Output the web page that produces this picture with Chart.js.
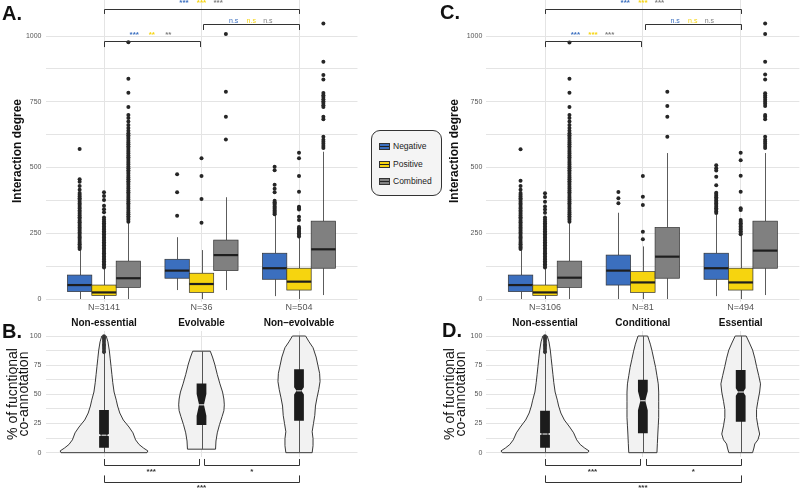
<!DOCTYPE html>
<html lang="en">
<head>
<meta charset="UTF-8">
<title>Interaction degree and functional co-annotation</title>
<script src="https://cdn.jsdelivr.net/npm/chart.js"></script>
<style>
    body { margin: 0; background: #fff; font-family: "Liberation Sans", Arial, sans-serif; }
    #wrap { position: relative; width: 800px; height: 489px; overflow: hidden; }
    .panel { position: absolute; }
    .letter { position: absolute; font-size: 20px; font-weight: bold; line-height: 20px; color: #111; }
    #legend {
        position: absolute; left: 371px; top: 130px; width: 71px; height: 66px;
        box-sizing: border-box; border: 1px solid #333; border-radius: 9px; background: #f4f4f4;
        font-size: 8.5px; color: #222;
    }
    #legend .item { position: absolute; left: 7px; height: 10px; line-height: 10px; white-space: nowrap; }
    #legend .key {
        display: inline-block; width: 11px; height: 7px; margin-right: 3px; vertical-align: -1px;
        border: 1px solid #333; box-sizing: border-box;
        background-image: linear-gradient(#222, #222); background-size: 100% 1.2px;
        background-position: center; background-repeat: no-repeat;
    }
</style>
</head>
<body>
<div id="wrap">
    <div class="panel" style="left:0;top:0"><canvas id="chartA" width="360" height="316"></canvas></div>
    <div class="panel" style="left:0;top:312px"><canvas id="chartB" width="360" height="177"></canvas></div>
    <div class="panel" style="left:437px;top:0"><canvas id="chartC" width="363" height="316"></canvas></div>
    <div class="panel" style="left:437px;top:312px"><canvas id="chartD" width="363" height="177"></canvas></div>

    <div class="letter" style="left:2px;top:3px">A.</div>
    <div class="letter" style="left:2px;top:321px">B.</div>
    <div class="letter" style="left:440px;top:2px">C.</div>
    <div class="letter" style="left:442px;top:320px">D.</div>

    <div id="legend">
        <div class="item" style="top:10px"><span class="key" style="background-color:#3b6fbf"></span>Negative</div>
        <div class="item" style="top:28px"><span class="key" style="background-color:#f6d40f"></span>Positive</div>
        <div class="item" style="top:45px"><span class="key" style="background-color:#808080"></span>Combined</div>
    </div>
</div>

<script>
// ---- data: interaction degree (panels A and C) ----
const seriesNames = ['Negative', 'Positive', 'Combined'];

const groupsA = ['Non-essential', 'Evolvable', 'Non\u2013evolvable'];
const countsA = [3141, 36, 504];
// [lower whisker, q1, median, q3, upper whisker] per group
const negStatsA = [[0, 28, 53, 91, 186], [34, 79, 108, 151, 235], [11, 75, 117, 174, 320]];
const posStatsA = [[0, 13, 25, 53, 118], [0, 25, 57, 98, 186], [0, 34, 66, 117, 232]];
const comStatsA = [[0, 44, 79, 144, 290], [34, 108, 167, 224, 387], [15, 117, 189, 296, 560]];
const negOutA = [
    [190,196,202,208,214,221,228,234,240,247,253,260,266,272,279,285,292,298,305,311,318,324,331,337,344,350,357,363,370,377,383,390,396,403,415,430,446,455,570],
    [317, 406, 474],
    [322,327,332,337,342,347,352,358,363,368,374,406,419,434,490,503]
];
const posOutA = [
    [120,126,132,138,144,150,156,162,168,174,180,186,192,198,204,210,216,222,228,234,240,246,252,258,264,270,276,282,288,295,302,310,330,341,355,376,392,406],
    [290, 380, 468, 535],
    [238,244,250,256,262,268,274,300,313,340,346,351,408,468,535,556]
];
const comOutA = [
    [294,301,308,315,322,329,336,343,350,357,364,371,378,385,392,399,406,413,420,427,434,441,448,455,462,469,476,483,490,497,504,511,518,525,532,539,546,553,560,567,574,581,588,595,602,609,616,623,630,640,650,662,675,688,700,730,784,838,976],
    [607, 693, 788, 1008],
    [574,582,590,598,606,617,684,693,730,737,745,752,760,768,775,783,835,852,902,1048]
];

const groupsC = ['Non-essential', 'Conditional', 'Essential'];
const countsC = [3106, 81, 494];
const negStatsC = [[0, 28, 53, 91, 186], [0, 53, 108, 167, 328], [11, 75, 117, 174, 320]];
const posStatsC = [[0, 13, 25, 53, 118], [0, 25, 63, 104, 200], [0, 34, 63, 117, 240]];
const comStatsC = [[0, 44, 81, 144, 290], [0, 79, 161, 272, 555], [15, 117, 184, 296, 555]];
const negOutC = [
    [190,196,202,208,214,221,228,234,240,247,253,260,266,272,279,285,292,298,305,311,318,324,331,337,344,350,357,363,370,377,383,390,396,403,415,430,450,569],
    [364, 383, 407],
    [327,333,339,345,351,357,363,369,375,381,387,393,399,404,433,465,489,497,509]
];
const posOutC = [
    [120,126,132,138,144,150,156,162,168,174,180,186,192,198,204,210,216,222,228,234,240,246,252,258,264,270,276,282,288,295,302,310,328,340,352,370,388,402],
    [227, 256, 357, 389, 468],
    [246,252,258,264,270,276,282,288,294,300,338,345,408,469,528,556]
];
const comOutC = [
    [294,301,308,315,322,329,336,343,350,357,364,371,378,385,392,399,406,413,420,427,434,441,448,455,462,469,476,483,490,497,504,511,518,525,532,539,546,553,560,567,574,581,588,595,602,609,616,623,630,640,650,662,675,688,700,730,784,838,975],
    [617, 693, 734, 788],
    [574,582,590,598,606,617,684,693,700,734,742,750,758,766,774,782,835,854,902,1008,1048]
];

const degreeTicks = [0, 125, 250, 375, 500, 625, 750, 875, 1000];

// ---- data: % functional co-annotation (panels B and D) ----
const coannotB = [[0, 4.3, 15, 36.6, 85], [3, 23.7, 41, 59.4, 87], [0, 27.4, 53, 71.5, 100]];
const coannotD = [[0, 4.3, 16, 36, 85], [0, 16.6, 44.5, 62.6, 100], [0, 26.6, 52, 70.9, 100]];
// [value, relative density] along each violin
const densityB = [
    [[0,0.98],[1.5,1.0],[4,0.9],[7,0.8],[11,0.72],[17,0.66],[22,0.57],[28,0.44],[34,0.36],[40,0.31],[45,0.28],[52,0.23],[60,0.2],[67,0.18],[74,0.16],[81,0.14],[88,0.12],[95,0.09],[100,0.05]],
    [[3,0.32],[10,0.33],[17,0.36],[24,0.41],[31,0.47],[36,0.51],[41,0.52],[46,0.51],[52,0.48],[59,0.42],[67,0.36],[76,0.30],[82,0.25],[87,0.20]],
    [[0,0.30],[6,0.32],[12,0.32],[18,0.30],[25,0.33],[32,0.36],[40,0.375],[47,0.41],[54,0.45],[61,0.48],[68,0.47],[75,0.43],[82,0.39],[90,0.32],[95,0.23],[100,0.15]]
];
const densityD = [
    [[0,0.97],[1.5,1.0],[4,0.9],[7,0.8],[11,0.72],[17,0.65],[22,0.56],[28,0.44],[34,0.36],[40,0.31],[45,0.28],[52,0.23],[60,0.2],[67,0.18],[74,0.16],[81,0.14],[88,0.12],[95,0.09],[100,0.05]],
    [[0,0.32],[8,0.33],[16,0.34],[23,0.35],[30,0.36],[37,0.36],[44,0.36],[52,0.36],[59,0.35],[66,0.32],[73,0.29],[80,0.25],[87,0.21],[93,0.17],[100,0.11]],
    [[0,0.27],[4,0.3],[7.5,0.32],[11,0.39],[16,0.43],[23,0.39],[30,0.36],[37,0.36],[44,0.39],[52,0.43],[59,0.45],[66,0.41],[74,0.36],[81,0.32],[88,0.27],[94,0.2],[100,0.125]]
];
const violinOutB = [[86,87,88,89,90,91,92,93,94,95,96,97,98,99,100], [], []];
const violinOutD = [[86,87,88,89,90,91,92,93,94,95,96,97,98,99,100], [], []];

const percentTicks = [0, 12.5, 25, 37.5, 50, 62.5, 75, 87.5, 100];

// ---- significance brackets ----
const sigTopA = [
    { from: 1, to: 3, y: 1103, drop: 1084, textY: 1125, labels: ['***', '***', '***'] },
    { from: 2.02, to: 3, y: 1046, drop: 1023, textY: 1058, labels: ['n.s', 'n.s', 'n.s'] },
    { from: 1, to: 1.98, y: 981, drop: 958, textY: 1006, labels: ['***', '**', '**'] }
];
const sigTopC = [
    { from: 1, to: 3, y: 1103, drop: 1084, textY: 1125, labels: ['***', '***', '***'] },
    { from: 2.02, to: 3, y: 1046, drop: 1023, textY: 1058, labels: ['n.s', 'n.s', 'n.s'] },
    { from: 1, to: 1.98, y: 981, drop: 958, textY: 1006, labels: ['***', '***', '***'] }
];
const sigBottomB = [
    { from: 1, to: 1.97, y: -10.5, drop: -5.4, textY: -16, labels: ['***'] },
    { from: 2.03, to: 3, y: -10.5, drop: -5.4, textY: -16, labels: ['*'] },
    { from: 1, to: 3, y: -25, drop: -19.5, textY: -30, labels: ['***'] }
];
const sigBottomD = sigBottomB;

// ---- styling ----
Chart.defaults.font.family = '"Liberation Sans", Arial, sans-serif';
const seriesColors = ['#3b6fbf', '#f6d40f', '#808080'];
const dodge = [-0.25, 0, 0.25];
const gridColor = '#e4e4e4';

const boxPlugin = {
    id: 'boxes',
    beforeDatasetsDraw(chart, args, o) {
        const { ctx, scales: { x, y } } = chart;
        ctx.save();
        o.stats.forEach((list, si) => {
            list.forEach((s, gi) => {
                const c = gi + 1 + dodge[si];
                const xl = x.getPixelForValue(c - 0.125), xr = x.getPixelForValue(c + 0.125);
                const xm = Math.round(x.getPixelForValue(c)) + 0.5;
                ctx.strokeStyle = '#4a4a4a';
                ctx.lineWidth = 0.9;
                ctx.beginPath();
                ctx.moveTo(xm, y.getPixelForValue(s[0])); ctx.lineTo(xm, y.getPixelForValue(s[1]));
                ctx.moveTo(xm, y.getPixelForValue(s[3])); ctx.lineTo(xm, y.getPixelForValue(s[4]));
                ctx.stroke();
                const yt = y.getPixelForValue(s[3]), yb = y.getPixelForValue(s[1]);
                ctx.fillStyle = seriesColors[si];
                ctx.fillRect(xl, yt, xr - xl, yb - yt);
                ctx.strokeStyle = '#333';
                ctx.lineWidth = 0.7;
                ctx.strokeRect(xl, yt, xr - xl, yb - yt);
                ctx.strokeStyle = '#1e1e1e';
                ctx.lineWidth = 2.2;
                ctx.beginPath();
                const ym = y.getPixelForValue(s[2]);
                ctx.moveTo(xl, ym); ctx.lineTo(xr, ym);
                ctx.stroke();
            });
        });
        ctx.restore();
    }
};

const violinPlugin = {
    id: 'violins',
    beforeDatasetsDraw(chart, args, o) {
        const { ctx, scales: { x, y } } = chart;
        ctx.save();
        o.shapes.forEach((shape, gi) => {
            const g = gi + 1;
            ctx.beginPath();
            shape.forEach(([v, d], i) => {
                const px = x.getPixelForValue(g + d * 0.45), py = y.getPixelForValue(v);
                if (i) ctx.lineTo(px, py); else ctx.moveTo(px, py);
            });
            for (let i = shape.length - 1; i >= 0; i--) {
                const [v, d] = shape[i];
                ctx.lineTo(x.getPixelForValue(g - d * 0.45), y.getPixelForValue(v));
            }
            ctx.closePath();
            ctx.fillStyle = '#f2f2f2';
            ctx.fill();
            ctx.strokeStyle = '#222';
            ctx.lineWidth = 0.9;
            ctx.stroke();

            // whisker through the violin
            const s = o.stats[gi];
            const xm = Math.round(x.getPixelForValue(g)) + 0.5;
            ctx.strokeStyle = '#555';
            ctx.lineWidth = 1;
            ctx.beginPath();
            ctx.moveTo(xm, y.getPixelForValue(s[0]));
            ctx.lineTo(xm, y.getPixelForValue(s[4]));
            ctx.stroke();

            // notched box
            const notch = 1.58 * (s[3] - s[1]) / Math.sqrt(o.counts[gi]);
            const lo = Math.max(s[1], s[2] - notch), hi = Math.min(s[3], s[2] + notch);
            const w = 0.05;
            const pts = [[g - w, s[1]], [g + w, s[1]], [g + w, lo], [g + w / 2, s[2]], [g + w, hi], [g + w, s[3]],
                         [g - w, s[3]], [g - w, hi], [g - w / 2, s[2]], [g - w, lo]];
            ctx.beginPath();
            pts.forEach(([px, pv], i) => {
                const X = x.getPixelForValue(px), Y = y.getPixelForValue(pv);
                if (i) ctx.lineTo(X, Y); else ctx.moveTo(X, Y);
            });
            ctx.closePath();
            ctx.fillStyle = '#1c1c1c';
            ctx.fill();
            ctx.strokeStyle = '#ffffff';
            ctx.lineWidth = 1;
            ctx.beginPath();
            const ym = y.getPixelForValue(s[2]);
            ctx.moveTo(x.getPixelForValue(g - w / 2), ym);
            ctx.lineTo(x.getPixelForValue(g + w / 2), ym);
            ctx.stroke();
        });
        ctx.restore();
    }
};

const bracketPlugin = {
    id: 'brackets',
    afterDraw(chart, args, o) {
        const { ctx, scales: { x, y } } = chart;
        ctx.save();
        ctx.strokeStyle = '#333';
        ctx.lineWidth = 1;
        ctx.textAlign = 'center';
        ctx.textBaseline = 'middle';
        o.items.forEach(b => {
            const x1 = Math.round(x.getPixelForValue(b.from)) + 0.5;
            const x2 = Math.round(x.getPixelForValue(b.to)) + 0.5;
            const yb = Math.round(y.getPixelForValue(b.y)) + 0.5;
            const yd = y.getPixelForValue(b.drop);
            ctx.beginPath();
            ctx.moveTo(x1, yd); ctx.lineTo(x1, yb); ctx.lineTo(x2, yb); ctx.lineTo(x2, yd);
            ctx.stroke();
            const mid = (b.from + b.to) / 2;
            b.labels.forEach((t, i) => {
                const off = b.labels.length > 1 ? [-0.18, 0, 0.17][i] : 0;
                ctx.fillStyle = o.colors ? o.colors[i] : '#333';
                ctx.font = (t.indexOf('*') >= 0 ? 'bold 8px' : '7px') + ' "Liberation Sans", Arial, sans-serif';
                ctx.fillText(t, x.getPixelForValue(mid + off), y.getPixelForValue(b.textY));
            });
        });
        ctx.restore();
    }
};

function yAxis(ticks, major, min, max, width, title) {
    return {
        min: min, max: max,
        afterBuildTicks: s => { s.ticks = ticks.map(v => ({ value: v })); },
        afterFit: s => { s.width = width; s.paddingTop = 0; s.paddingBottom = 0; },
        border: { display: false },
        grid: { color: gridColor, drawTicks: false },
        // tiny lineHeight keeps the tick labels from reserving space above/below the plot
        ticks: { padding: 4, font: { size: 7, lineHeight: 0.05 }, color: '#555', callback: v => (v % major === 0 ? v : '') },
        title: title
    };
}

function xAxis(height, position, padding, font, color, labelFor) {
    return {
        position: position,
        min: 0.4, max: 3.6,
        afterBuildTicks: s => { s.ticks = [1, 2, 3].map(v => ({ value: v })); },
        afterFit: s => { s.height = height; s.paddingLeft = 0; s.paddingRight = 0; },
        border: { display: false },
        grid: { color: gridColor, drawTicks: false },
        ticks: { padding: padding, font: font, color: color, maxRotation: 0, autoSkip: false, callback: labelFor }
    };
}

function boxChart(id, counts, stats, outs, sig, axisWidth, padRight) {
    const datasets = seriesNames.map((name, si) => ({
        label: name,
        data: outs[si].flatMap((vals, gi) => vals.map(v => ({ x: gi + 1 + dodge[si], y: v }))),
        pointRadius: 2,
        pointBackgroundColor: '#262626',
        pointBorderWidth: 0
    }));
    new Chart(document.getElementById(id), {
        type: 'scatter',
        data: { datasets: datasets },
        options: {
            responsive: false, animation: false, events: [],
            layout: { autoPadding: false, padding: { top: 0, right: padRight, bottom: 0, left: 0 } },
            plugins: {
                legend: { display: false }, tooltip: { enabled: false },
                boxes: { stats: stats },
                brackets: { items: sig, colors: seriesColors }
            },
            scales: {
                x: xAxis(14, 'bottom', 0, { size: 9 }, '#555', v => 'N=' + counts[v - 1]),
                y: yAxis(degreeTicks, 250, -11.4, 1137, axisWidth, {
                    display: true, text: 'Interaction degree', color: '#111',
                    font: { size: 12, weight: 'bold' }, padding: { top: 10, bottom: 0 }
                })
            }
        },
        plugins: [boxPlugin, bracketPlugin]
    });
}

function violinChart(id, groups, counts, stats, shapes, outs, sig, axisWidth, padRight) {
    new Chart(document.getElementById(id), {
        type: 'scatter',
        data: {
            datasets: [{
                label: 'outliers',
                data: outs.flatMap((vals, gi) => vals.map(v => ({ x: gi + 1, y: v }))),
                pointRadius: 1.8,
                pointBackgroundColor: '#333',
                pointBorderWidth: 0
            }]
        },
        options: {
            responsive: false, animation: false, events: [],
            layout: { autoPadding: false, padding: { top: 0, right: padRight, bottom: 32, left: 0 } },
            plugins: {
                legend: { display: false }, tooltip: { enabled: false },
                violins: { stats: stats, shapes: shapes, counts: counts },
                brackets: { items: sig }
            },
            scales: {
                x: xAxis(19, 'top', 2, { size: 10, weight: 'bold' }, '#111', v => groups[v - 1]),
                y: yAxis(percentTicks, 25, -3.7, 104.3, axisWidth, {
                    display: true, text: ['% of fucntional', 'co-annotation'], color: '#111',
                    font: { size: 14, lineHeight: 0.78 }, padding: { top: 8, bottom: 0 }
                })
            }
        },
        plugins: [violinPlugin, bracketPlugin]
    });
}

boxChart('chartA', countsA, [negStatsA, posStatsA, comStatsA], [negOutA, posOutA, comOutA], sigTopA, 45.5, 2.5);
boxChart('chartC', countsC, [negStatsC, posStatsC, comStatsC], [negOutC, posOutC, comOutC], sigTopC, 49.3, 0.6);
violinChart('chartB', groupsA, countsA, coannotB, densityB, violinOutB, sigBottomB, 45.5, 2.5);
violinChart('chartD', groupsC, countsC, coannotD, densityD, violinOutD, sigBottomD, 49.3, 0.6);
</script>
</body>
</html>
